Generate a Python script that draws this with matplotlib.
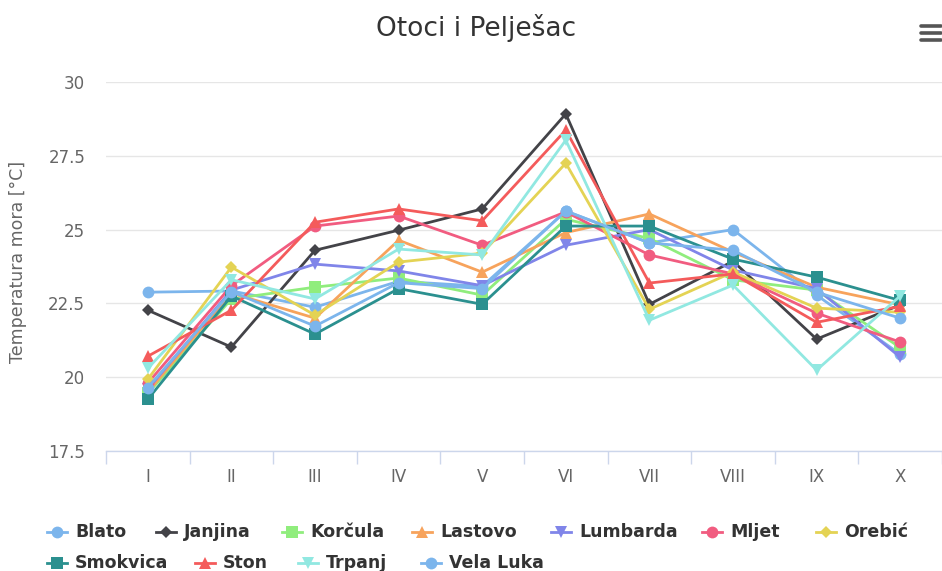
import matplotlib
matplotlib.use("Agg")
from matplotlib import pyplot as plt
from matplotlib.lines import Line2D

# data
months = ["I", "II", "III", "IV", "V", "VI", "VII", "VIII", "IX", "X"]
names = ["Blato", "Janjina", "Korčula", "Lastovo", "Lumbarda", "Mljet",
         "Orebić", "Smokvica", "Ston", "Trpanj", "Vela Luka"]

blato = [22.88, 22.92, 22.37, 23.25, 23.08, 25.63, 24.55, 25.0, 22.78, 20.78]
janjina = [22.27, 21.02, 24.3, 24.98, 25.7, 28.92, 22.47, 23.93, 21.29, 22.45]
korcula = [19.45, 22.65, 23.05, 23.36, 22.78, 25.35, 24.7, 23.3, 22.95, 21.0]
lastovo = [19.5, 22.85, 22.0, 24.64, 23.56, 24.9, 25.53, 24.24, 23.05, 22.45]
lumbarda = [19.6, 22.95, 23.83, 23.6, 23.1, 24.47, 25.0, 23.63, 23.0, 20.68]
mljet = [19.8, 23.1, 25.12, 25.46, 24.47, 25.6, 24.14, 23.5, 22.17, 21.19]
orebic = [19.93, 23.73, 22.1, 23.9, 24.2, 27.25, 22.3, 23.56, 22.34, 22.2]
smokvica = [19.25, 22.75, 21.46, 23.0, 22.47, 25.12, 25.12, 24.0, 23.39, 22.6]
ston = [20.71, 22.27, 25.25, 25.7, 25.3, 28.37, 23.19, 23.5, 21.86, 22.4]
trpanj = [20.3, 23.3, 22.65, 24.34, 24.14, 28.03, 21.93, 23.12, 20.24, 22.75]
vela_luka = [19.65, 22.9, 21.73, 23.2, 23.0, 25.63, 24.55, 24.3, 22.88, 22.0]

series = [blato, janjina, korcula, lastovo, lumbarda, mljet,
          orebic, smokvica, ston, trpanj, vela_luka]

colors = ["#7cb5ec", "#434348", "#90ed7d", "#f7a35c", "#8085e9", "#f15c80",
          "#e4d354", "#2b908f", "#f45b5b", "#91e8e1", "#7cb5ec"]
markers = ["o", "D", "s", "^", "v", "o", "D", "s", "^", "v", "o"]
msizes = {"o": 8.5, "D": 6.0, "s": 8.0, "^": 8.5, "v": 8.5}

# legend item layout (pixels): marker centre x, row
legend_x = [57, 166, 292, 422, 561, 712, 826, 57, 205, 308, 431]
legend_row = [0, 0, 0, 0, 0, 0, 0, 1, 1, 1, 1]
rows_y = [532, 563]

W, H = 942, 571
fig = plt.figure(figsize=(W / 100, H / 100), dpi=100)
fig.patch.set_facecolor("white")

ax = fig.add_axes([106 / W, 1 - 451 / H, 836 / W, (451 - 82) / H])
x = list(range(len(months)))
for vals, name, c, m in zip(series, names, colors, markers):
    ax.plot(x, vals, color=c, lw=2.0, marker=m, markersize=msizes[m],
            markeredgewidth=0, label=name, clip_on=False)

ax.set_xlim(-0.5, 9.37)
ax.set_ylim(17.5, 30)
ax.set_yticks([17.5, 20, 22.5, 25, 27.5, 30])
ax.set_yticklabels(["17.5", "20", "22.5", "25", "27.5", "30"])
ax.set_xticks(x)
ax.set_xticklabels(months)
ax.set_xticks([i - 0.5 for i in range(len(months) + 1)], minor=True)
ax.tick_params(axis="x", which="major", length=0, pad=12, colors="#666666", labelsize=12)
ax.tick_params(axis="x", which="minor", length=9, width=1, color="#ccd6eb")
ax.tick_params(axis="y", length=0, pad=15, colors="#666666", labelsize=12)
ax.grid(axis="y", color="#e6e6e6", lw=1)
ax.set_axisbelow(True)
for s in ["top", "right", "left"]:
    ax.spines[s].set_visible(False)
ax.spines["bottom"].set_color("#ccd6eb")
ax.spines["bottom"].set_linewidth(1)

fig.text(18 / W, 1 - 262 / H, "Temperatura mora [°C]", rotation=90,
         ha="center", va="center", color="#666666", fontsize=12.5)
fig.text(476 / W, 1 - 28 / H, "Otoci i Pelješac", ha="center", va="center",
         color="#333333", fontsize=19)

# hamburger menu icon
for yy in [26, 33, 40]:
    fig.add_artist(Line2D([921 / W, 941 / W], [1 - yy / H, 1 - yy / H],
                          color="#555555", lw=2.6, solid_capstyle="round"))

# legend
for name, c, m, lx, r in zip(names, colors, markers, legend_x, legend_row):
    yy = 1 - rows_y[r] / H
    fig.add_artist(Line2D([(lx - 10) / W, (lx + 10) / W], [yy, yy], color=c, lw=2.0))
    fig.add_artist(Line2D([lx / W], [yy], color=c, marker=m,
                          markersize=msizes[m], markeredgewidth=0))
    fig.text((lx + 18) / W, yy, name, fontsize=12.5, fontweight="bold",
             color="#333333", va="center",
             family=["DejaVu Sans Condensed", "Liberation Sans Narrow", "DejaVu Sans"])

fig.savefig("out.png", dpi=100)
